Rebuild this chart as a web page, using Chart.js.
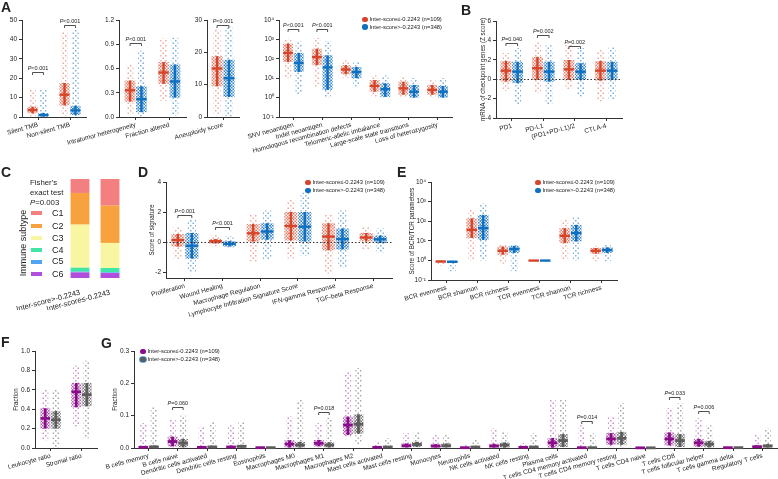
<!DOCTYPE html>
<html lang="en">
<head>
<meta charset="UTF-8">
<title>Inter-score groups</title>
<script src="https://cdn.jsdelivr.net/npm/chart.js"></script>
<style>
  body { margin: 0; background: #fff; font-family: "Liberation Sans", Arial, sans-serif; color: #222; }
  #page { position: relative; width: 778px; height: 479px; overflow: hidden; }
  canvas { position: absolute; }
  .tag { position: absolute; z-index: 2; font-weight: bold; font-size: 14px; line-height: 14px; }
  .lg { position: absolute; z-index: 2; font-size: 5.8px; line-height: 8px; white-space: nowrap; }
  .lg i { display: inline-block; width: 5.5px; height: 5.5px; border-radius: 50%; margin-right: 2px; vertical-align: -1px; }
  .note { position: absolute; z-index: 2; white-space: nowrap; }
</style>
</head>
<body>
<div id="page">
  <div class="tag" style="left:1px;top:0px">A</div>
  <div class="tag" style="left:461px;top:3px">B</div>
  <div class="tag" style="left:1px;top:165px">C</div>
  <div class="tag" style="left:138px;top:165px">D</div>
  <div class="tag" style="left:397px;top:165px">E</div>
  <div class="tag" style="left:1px;top:335px">F</div>
  <div class="tag" style="left:101px;top:336px">G</div>
  <div class="note" style="left:30px;top:178px;font-size:7.8px;line-height:10px">Fisher's<br>exact test<br><i>P</i>=0.003</div>
  <div class="note" style="left:-12px;top:238px;width:70px;text-align:center;font-size:9px;line-height:10px;transform:rotate(-90deg)">Immune subtype</div>
</div>
<script>
// each stats row: [mean, lower error, upper error, lowest point, highest point]
const groupLabels = ['Inter-score\u2264-0.2243 (n=109)', 'Inter-score>-0.2243 (n=348)'];

const tmbCats = ['Silent TMB', 'Non-silent TMB'];
const tmbLow = [[3.6, 1.9, 5.3, 0.2, 14], [11.5, 6, 17.5, 0.8, 44]];
const tmbHigh = [[1.0, 0.2, 2.0, 0, 14], [3.4, 1, 5.8, 0, 45]];
const tmbTicks = [0, 10, 20, 30, 40, 50];
const tmbP = [[0, 23, 'P<0.001'], [1, 47.5, 'P<0.001']];

const ithCats = ['Intratumor heterogeneity', 'Fraction altered'];
const ithLow = [[0.33, 0.19, 0.45, 0.04, 0.65], [0.55, 0.41, 0.68, 0.2, 0.97]];
const ithHigh = [[0.22, 0.06, 0.38, 0, 0.82], [0.44, 0.24, 0.65, 0.02, 0.98]];
const ithTicks = [0, 0.3, 0.6, 0.9, 1.2];
const ithP = [[0, 0.91, 'P<0.001']];

const aneuCats = ['Aneuploidy score'];
const aneuLow = [[15, 9.5, 18.8, 1, 27]];
const aneuHigh = [[12, 6.2, 17.7, 0, 28]];
const aneuTicks = [0, 10, 20, 30];
const aneuP = [[0, 28.6, 'P<0.001']];

const genomeCats = ['SNV neoantigen', 'Indel neoantigen', 'Homologous recombination defects',
  'Telomeric-allelic imbalance', 'Large-scale state transitions', 'Loss of heterozygosity'];
const genomeLow = [[200, 69, 600, 10, 1100], [123, 47, 330, 3.6, 1200], [28, 16, 47, 10, 83],
  [4, 2, 8, 1.1, 14], [3, 1.4, 6.6, 1, 12], [2.5, 1.4, 4.5, 1, 8]];
const genomeHigh = [[61, 21, 200, 1.5, 800], [36, 2.5, 150, 1, 800], [21, 10, 38, 3.6, 69],
  [2.7, 1.1, 5.4, 1, 14], [2, 1, 4.5, 1, 10], [2, 1, 4, 1, 10]];
const genomeP = [[0, 3500, 'P<0.001'], [1, 3500, 'P<0.001']];
const logTicks = [0.1, 1, 10, 100, 1000, 10000];

const checkCats = ['PD1', 'PD-L1', '(PD1+PD-L1)/2', 'CTLA-4'];
const checkLow = [[0.88, -0.24, 1.87, -1.2, 2.7], [1.13, -0.07, 2.3, -1.4, 3.85],
  [1.02, -0.07, 1.98, -1.1, 3.7], [0.88, -0.14, 1.87, -2.3, 3.0]];
const checkHigh = [[0.78, -0.4, 1.8, -2.6, 3.2], [0.78, -0.25, 1.8, -2.6, 3.5],
  [0.78, -0.07, 1.64, -1.8, 3.2], [0.88, -0.07, 1.8, -2.1, 3.3]];
const checkTicks = [-4, -2, 0, 2, 4, 6];
const checkP = [[0, 3.69, 'P=0.040'], [1, 4.54, 'P=0.002'], [2, 3.44, 'P=0.002']];

const subtypeNames = ['C1', 'C2', 'C3', 'C4', 'C5', 'C6'];
const immuneGroups = ['Inter-score>-0.2243', 'Inter-score\u2264-0.2243'];
const subtypeHigh = [14.1, 32.0, 43.5, 4.0, 0.7, 5.7];
const subtypeLow = [26.9, 37.7, 25.3, 4.4, 0.7, 5.0];

const sigCats = ['Proliferation', 'Wound Healing', 'Macrophage Regulation',
  'Lymphocyte Infiltration Signature Score', 'IFN-gamma Response', 'TGF-beta Response'];
const sigLow = [[0.13, -0.3, 0.53, -1.2, 1.0], [0.05, -0.1, 0.2, -0.3, 0.5], [0.58, 0, 1.2, -1.3, 1.8],
  [1.07, 0.1, 2.0, -1.1, 2.8], [0.36, -0.55, 1.25, -2.1, 1.8], [0.3, 0, 0.6, -0.5, 1.0]];
const sigHigh = [[-0.25, -1.1, 0.6, -2.0, 1.5], [-0.12, -0.3, 0.06, -0.4, 0.4], [0.7, 0.15, 1.25, -1.2, 2.1],
  [1.02, 0, 2.0, -0.9, 3.3], [0.2, -0.5, 0.9, -1.7, 2.1], [0.18, -0.07, 0.43, -0.7, 0.9]];
const sigTicks = [-2, 0, 2, 4];
const sigP = [[0, 1.8, 'P<0.001'], [1, 0.98, 'P<0.001']];

const bcrCats = ['BCR evenness', 'BCR shannon', 'BCR richness', 'TCR evenness', 'TCR shannon', 'TCR richness'];
const bcrLow = [[0.88, 0.8, 0.96, 0.55, 1.0], [36, 14, 140, 1, 370], [3.1, 1.95, 5.1, 0.68, 6.3],
  [0.98, 0.95, 1.02, 0.85, 1.05], [18, 7.6, 44, 1.1, 117], [3.1, 2.2, 4.3, 0.9, 5.5]];
const bcrHigh = [[0.85, 0.75, 0.95, 0.28, 1.0], [44, 11, 210, 1, 800], [3.8, 2.4, 5.5, 0.28, 6.5],
  [0.98, 0.95, 1.02, 0.85, 1.05], [25, 9.3, 65, 1, 160], [3.4, 2.4, 4.6, 0.9, 6.5]];

const ratioCats = ['Leukocyte ratio', 'Stromal ratio'];
const ratioLow = [[0.305, 0.2, 0.41, 0.08, 0.6], [0.58, 0.42, 0.67, 0.22, 0.85]];
const ratioHigh = [[0.29, 0.2, 0.38, 0, 0.6], [0.55, 0.43, 0.67, 0.1, 0.9]];
const ratioTicks = [0, 0.2, 0.4, 0.6, 0.8, 1.0];

const cellCats = ['B cells memory', 'B cells naive', 'Dendritic cells activated', 'Dendritic cells resting',
  'Eosinophils', 'Macrophages M0', 'Macrophages M1', 'Macrophages M2', 'Mast cells activated',
  'Mast cells resting', 'Monocytes', 'Neutrophils', 'NK cells activated', 'NK cells resting',
  'Plasma cells', 'T cells CD4 memory activated', 'T cells CD4 memory resting', 'T cells CD4 naive',
  'T cells CD8', 'T cells follicular helper', 'T cells gamma delta', 'Regulatory T cells'];
const cellLow = [[0.002, 0, 0.006, 0, 0.077], [0.02, 0.005, 0.035, 0, 0.087], [0.002, 0, 0.005, 0, 0.066],
  [0.003, 0, 0.007, 0, 0.07], [0.001, 0, 0.002, 0, 0.005], [0.012, 0, 0.024, 0, 0.099],
  [0.0145, 0.005, 0.025, 0, 0.077], [0.071, 0.04, 0.097, 0.035, 0.236], [0.002, 0, 0.004, 0, 0.02],
  [0.007, 0, 0.014, 0, 0.046], [0.006, 0, 0.012, 0, 0.04], [0.001, 0, 0.003, 0, 0.01],
  [0.006, 0, 0.013, 0, 0.06], [0.002, 0, 0.004, 0, 0.015], [0.016, 0.001, 0.031, 0, 0.149],
  [0.001, 0, 0.003, 0, 0.07], [0.028, 0.01, 0.046, 0, 0.097], [0.0005, 0, 0.001, 0, 0.003],
  [0.028, 0.008, 0.048, 0, 0.123], [0.016, 0.004, 0.028, 0, 0.092], [0.001, 0, 0.002, 0, 0.005],
  [0.004, 0, 0.008, 0, 0.04]];
const cellHigh = [[0.003, 0, 0.008, 0, 0.127], [0.015, 0.002, 0.028, 0, 0.1], [0.003, 0, 0.007, 0, 0.08],
  [0.005, 0, 0.01, 0, 0.08], [0.001, 0, 0.002, 0, 0.006], [0.009, 0, 0.019, 0, 0.149],
  [0.009, 0, 0.018, 0, 0.093], [0.074, 0.044, 0.104, 0.01, 0.247], [0.003, 0, 0.006, 0, 0.03],
  [0.011, 0.003, 0.019, 0, 0.05], [0.007, 0, 0.014, 0, 0.04], [0.003, 0, 0.006, 0, 0.025],
  [0.009, 0.001, 0.017, 0, 0.05], [0.003, 0, 0.006, 0, 0.045], [0.023, 0.003, 0.043, 0, 0.149],
  [0.001, 0, 0.002, 0, 0.045], [0.03, 0.01, 0.05, 0, 0.138], [0.0005, 0, 0.001, 0, 0.003],
  [0.023, 0.003, 0.043, 0, 0.138], [0.012, 0.002, 0.022, 0, 0.07], [0.001, 0, 0.002, 0, 0.005],
  [0.006, 0, 0.012, 0, 0.06]];
const cellTicks = [0, 0.1, 0.2, 0.3];
const cellP = [[1, 0.128, 'P=0.060'], [6, 0.112, 'P=0.018'], [15, 0.085, 'P=0.014'],
  [18, 0.158, 'P=0.033'], [19, 0.115, 'P=0.006']];

const RED = '#D6452A', BLUE = '#0F6FC0', PURPLE = '#8A0C8A', GREY = '#5C5C5C';
const subtypeColors = ['#F47F80', '#F7A13F', '#F9F6A3', '#41E6A6', '#50A5F2', '#B04FDC'];
const FONT = '"Liberation Sans", Arial, sans-serif';

Chart.defaults.font.family = FONT;
Chart.defaults.color = '#222';

const page = document.getElementById('page');

function fade(hex, a) {
  const n = parseInt(hex.slice(1), 16);
  return `rgba(${n >> 16},${(n >> 8) & 255},${n & 255},${a})`;
}

// small tile of dots so the spread bars read like a swarm of points
function dotPattern(ctx, hex, alpha, step) {
  const t = document.createElement('canvas');
  t.width = t.height = step;
  const g = t.getContext('2d');
  g.fillStyle = fade(hex, alpha);
  g.fillRect(0, 0, 1.5, 1.5);
  g.fillRect(step / 2, step / 2, 1.5, 1.5);
  return ctx.createPattern(t, 'repeat');
}

function makeCanvas(box) {
  const cv = document.createElement('canvas');
  cv.width = box[2];
  cv.height = box[3];
  cv.style.left = box[0] + 'px';
  cv.style.top = box[1] + 'px';
  page.appendChild(cv);
  return cv;
}

const sup = {'-1': '\u207b\u00b9', '0': '\u2070', '1': '\u00b9', '2': '\u00b2', '3': '\u00b3', '4': '\u2074'};
const fmtLog = v => '10' + sup[Math.round(Math.log10(v))];
const fmtFix1 = v => v.toFixed(1);
const fmtInt = v => String(v);

// mean bars, zero line and P brackets, drawn with the chart's own scale
function swarmMarks(p) {
  return {
    id: 'swarmMarks',
    afterDatasetsDraw(chart) {
      const ctx = chart.ctx, y = chart.scales.y, a = chart.chartArea;
      ctx.save();
      if (p.zero) {
        const py = Math.round(y.getPixelForValue(0)) + 0.5;
        ctx.setLineDash([1.5, 2]);
        ctx.strokeStyle = '#333';
        ctx.lineWidth = 1;
        ctx.beginPath(); ctx.moveTo(a.left, py); ctx.lineTo(a.right, py); ctx.stroke();
        ctx.setLineDash([]);
      }
      [p.low, p.high].forEach((stats, k) => {
        const bars = chart.getDatasetMeta(k + 2).data;
        ctx.strokeStyle = p.colors[k];
        ctx.lineWidth = p.lw;
        stats.forEach((s, i) => {
          const b = bars[i], half = b.width * 0.48, py = y.getPixelForValue(s[0]);
          ctx.beginPath(); ctx.moveTo(b.x - half, py); ctx.lineTo(b.x + half, py); ctx.stroke();
        });
      });
      (p.pvals || []).forEach(([i, v, txt]) => {
        const x1 = chart.getDatasetMeta(0).data[i].x, x2 = chart.getDatasetMeta(1).data[i].x;
        const py = Math.round(y.getPixelForValue(v)) + 0.5;
        ctx.strokeStyle = '#222';
        ctx.lineWidth = 0.8;
        ctx.beginPath();
        ctx.moveTo(x1, py + 2.5); ctx.lineTo(x1, py); ctx.lineTo(x2, py); ctx.lineTo(x2, py + 2.5);
        ctx.stroke();
        const rest = txt.slice(1);
        ctx.font = 'italic 5.5px ' + FONT;
        const wP = ctx.measureText('P').width;
        ctx.font = '5.5px ' + FONT;
        const wR = ctx.measureText(rest).width;
        const x0 = (x1 + x2) / 2 - (wP + wR) / 2;
        ctx.fillStyle = '#222';
        ctx.textAlign = 'left';
        ctx.textBaseline = 'bottom';
        ctx.fillText(rest, x0 + wP, py - 1);
        ctx.font = 'italic 5.5px ' + FONT;
        ctx.fillText('P', x0, py - 1);
      });
      ctx.restore();
    }
  };
}

function swarmPanel(p) {
  const cv = makeCanvas(p.box);
  const ctx = cv.getContext('2d');
  const [bx, by, bw, bh] = p.box;
  const [x0, y0, x1, y1] = p.area;
  const groups = [[p.low, p.colors[0], 0.45], [p.high, p.colors[1], 0.55]];
  const datasets = [];
  // sparse tails: lowest to highest point
  groups.forEach(([stats, col, al], k) => datasets.push({
    data: stats.map(s => [s[3], s[4]]), stack: 'g' + k,
    backgroundColor: dotPattern(ctx, col, al, 5), barPercentage: 0.6
  }));
  // dense core around the mean
  groups.forEach(([stats, col, al], k) => datasets.push({
    data: stats.map(s => [s[1], s[2]]), stack: 'g' + k,
    backgroundColor: dotPattern(ctx, col, Math.min(1, al * 1.5), 3), barPercentage: 0.95
  }));
  // SD bar
  groups.forEach(([stats, col], k) => datasets.push({
    data: stats.map(s => [s[1], s[2]]), stack: 'g' + k, backgroundColor: col, barPercentage: 1, maxBarThickness: p.lw
  }));
  const gridOpts = {display: true, offset: false, drawOnChartArea: false, drawTicks: true, tickLength: 3, color: '#333'};
  new Chart(cv, {
    type: 'bar',
    data: {labels: p.cats, datasets},
    options: {
      responsive: false,
      animation: false,
      devicePixelRatio: 1,
      datasets: {bar: {categoryPercentage: p.cp || 0.74}},
      layout: {padding: {left: x0 - bx - p.yW, top: y0 - by, right: bx + bw - x1, bottom: by + bh - y1 - p.xH}},
      scales: {
        x: {
          grid: gridOpts,
          border: {display: true, color: '#333'},
          ticks: {autoSkip: false, minRotation: 15, maxRotation: 15, padding: 1, font: {size: 6.5}},
          afterFit: s => { s.height = p.xH; s.paddingLeft = 0; s.paddingRight = 0; }
        },
        y: {
          type: p.log ? 'logarithmic' : 'linear',
          min: p.min, max: p.max, stacked: false, bounds: 'data',
          afterBuildTicks: s => { s.ticks = p.ticks.map(v => ({value: v})); },
          afterFit: s => { s.width = p.yW; s.paddingTop = 0; s.paddingBottom = 0; },
          ticks: {font: {size: 6.5}, padding: 2, callback: p.fmt},
          grid: gridOpts,
          border: {display: true, color: '#333'},
          title: {display: !!p.title, text: p.title || '', font: {size: 6.3}, padding: 0}
        }
      },
      plugins: {legend: {display: false}, tooltip: {enabled: false}}
    },
    plugins: [swarmMarks(p)]
  });
}

function addLegend(cx, cy, gap, entries) {
  entries.forEach(([label, fill, ring], i) => {
    const d = document.createElement('div');
    d.className = 'lg';
    d.style.left = (cx - 3) + 'px';
    d.style.top = (cy + i * gap - 4) + 'px';
    const dot = document.createElement('i');
    dot.style.background = fill;
    if (ring) dot.style.boxShadow = '0 0 0 0.8px ' + ring;
    d.appendChild(dot);
    d.appendChild(document.createTextNode(label));
    page.appendChild(d);
  });
}

// A
swarmPanel({box: [0, 0, 100, 150], area: [22, 20, 86, 117], yW: 22, xH: 33, cp: 0.68, cats: tmbCats,
  low: tmbLow, high: tmbHigh, colors: [RED, BLUE], lw: 2.4, min: 0, max: 50, ticks: tmbTicks, fmt: fmtInt, pvals: tmbP});
swarmPanel({box: [40, 0, 155, 150], area: [119, 20, 186, 117], yW: 22, xH: 33, cp: 0.68, cats: ithCats,
  low: ithLow, high: ithHigh, colors: [RED, BLUE], lw: 2.4, min: 0, max: 1.2, ticks: ithTicks, fmt: fmtFix1, pvals: ithP});
swarmPanel({box: [150, 0, 95, 150], area: [207, 20, 239, 117], yW: 22, xH: 33, cats: aneuCats,
  low: aneuLow, high: aneuHigh, colors: [RED, BLUE], lw: 2.4, min: 0, max: 30, ticks: aneuTicks, fmt: fmtInt, pvals: aneuP});
swarmPanel({box: [215, 0, 245, 160], area: [279, 20, 452, 117], yW: 22, xH: 43, cats: genomeCats,
  low: genomeLow, high: genomeHigh, colors: [RED, BLUE], lw: 2.4, log: true, min: 0.1, max: 10000,
  ticks: logTicks, fmt: fmtLog, pvals: genomeP});
addLegend(365, 19, 7.5, [[groupLabels[0], RED], [groupLabels[1], BLUE]]);

// B
swarmPanel({box: [465, 0, 165, 160], area: [496, 21, 622, 118], yW: 17, xH: 42, cats: checkCats,
  low: checkLow, high: checkHigh, colors: [RED, BLUE], lw: 2.4, min: -4, max: 6, ticks: checkTicks, fmt: fmtInt,
  pvals: checkP, zero: true, title: 'mRNA of checkpoint genes (Z score)'});

// C
(function () {
  const cv = makeCanvas([0, 170, 140, 140]);
  new Chart(cv, {
    type: 'bar',
    data: {
      labels: immuneGroups,
      datasets: subtypeNames.map((n, i) => ({
        label: n, data: [subtypeHigh[i], subtypeLow[i]], backgroundColor: subtypeColors[i],
        barPercentage: 0.63, categoryPercentage: 1
      })).reverse()
    },
    options: {
      responsive: false, animation: false, devicePixelRatio: 1,
      layout: {padding: {left: 65, top: 9, right: 15, bottom: 0}},
      scales: {
        x: {
          stacked: true, grid: {display: false}, border: {display: false},
          ticks: {autoSkip: false, minRotation: 15, maxRotation: 15, padding: 2, font: {size: 7.5}},
          afterFit: s => { s.height = 32; s.paddingLeft = 0; s.paddingRight = 0; }
        },
        y: {stacked: true, display: false, min: 0, max: 100}
      },
      plugins: {legend: {display: false}, tooltip: {enabled: false}}
    }
  });
  const rowsY = [213.3, 226, 238.3, 250, 261.7, 274];
  subtypeNames.forEach((n, i) => {
    const sw = document.createElement('div');
    sw.className = 'note';
    sw.style.cssText = `left:31px;top:${rowsY[i] - 2}px;width:11px;height:4px;background:${subtypeColors[i]}`;
    page.appendChild(sw);
    const t = document.createElement('div');
    t.className = 'note';
    t.style.cssText = `left:52px;top:${rowsY[i] - 5.5}px;font-size:9px;line-height:11px`;
    t.textContent = n;
    page.appendChild(t);
  });
})();

// D
swarmPanel({box: [95, 165, 305, 165], area: [166, 182, 392, 278], yW: 18, xH: 52, cats: sigCats,
  low: sigLow, high: sigHigh, colors: [RED, BLUE], lw: 2.4, min: -2.4, max: 4, ticks: sigTicks, fmt: fmtInt,
  pvals: sigP, zero: true, title: 'Score of signature'});
addLegend(308, 182, 8, [[groupLabels[0], RED], [groupLabels[1], BLUE]]);

// E
swarmPanel({box: [385, 165, 240, 165], area: [431, 182, 617, 280], yW: 23, xH: 50, cats: bcrCats,
  low: bcrLow, high: bcrHigh, colors: [RED, BLUE], lw: 2.4, log: true, min: 0.1, max: 10000,
  ticks: logTicks, fmt: fmtLog, title: 'Score of BCR/TCR parameters'});
addLegend(538, 182, 8, [[groupLabels[0], RED], [groupLabels[1], BLUE]]);

// F
swarmPanel({box: [0, 335, 105, 144], area: [35, 351, 97, 448], yW: 23, xH: 31, cp: 0.68, cats: ratioCats,
  low: ratioLow, high: ratioHigh, colors: [PURPLE, GREY], lw: 2.6, min: 0, max: 1, ticks: ratioTicks, fmt: fmtFix1,
  title: 'Fraction'});

// G
swarmPanel({box: [95, 335, 683, 144], area: [134, 351, 777, 448], yW: 23, xH: 31, cp: 0.72, cats: cellCats,
  low: cellLow, high: cellHigh, colors: [PURPLE, GREY], lw: 2.8, min: 0, max: 0.3, ticks: cellTicks, fmt: fmtFix1,
  pvals: cellP, title: 'Fraction'});
addLegend(143, 351, 8, [[groupLabels[0], PURPLE], [groupLabels[1], GREY, '#3A8FD8']]);
</script>
</body>
</html>
